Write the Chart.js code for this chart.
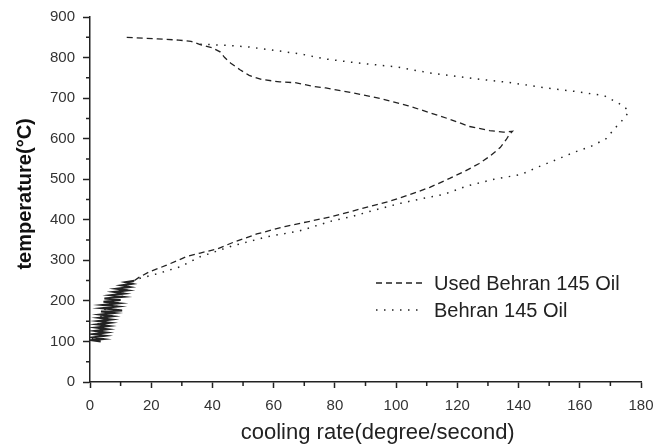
<!DOCTYPE html>
<html>
<head>
<meta charset="utf-8">
<script src="https://cdn.jsdelivr.net/npm/chart.js@4.4.1/dist/chart.umd.min.js"></script>
<style>
  body { margin: 0; background: #fff; }
</style>
</head>
<body>
<canvas id="chart" width="654" height="446"></canvas>
<script>
// series: cooling rate (x) vs temperature (y)
var usedRate = [12, 22, 29, 33, 36, 40, 42.5, 44, 46, 49, 52, 56, 62, 67, 73, 77, 85, 95, 104, 111, 117.5, 124, 130.5, 135, 138, 137, 136, 134, 130.5, 127, 122.5, 117.5, 111, 104.5, 98, 91.5, 85, 78.5, 71, 64, 54.5, 47, 41.5, 36, 31.5, 25, 19.5, 16,
  14.5, 11.5, 13.8, 10.2, 13, 8.6, 12.3, 7.8, 11.2, 6.7, 10.8, 4.7, 10, 4.4, 9.4, 4.1, 9, 3.8, 8.6, 10.5, 3.6, 8, 3.3, 7.4, 3, 7, 2.6, 6.6, 2.3, 6.2, 1.9, 5.8, 1.5, 5.4, 1.1, 5, 0.7, 4.4, 0.3, 3.5];
var usedTemp = [850, 846, 843, 840, 832, 824, 814, 800, 786, 770, 756, 746, 740, 738, 729, 725, 714, 699, 681, 664, 648, 630, 620, 616, 618, 610, 598, 578, 556, 538, 520, 502, 480, 462, 446, 433, 420, 407, 395, 384, 365, 345, 328, 318, 309, 288, 272, 258,
  250, 246, 242, 238, 234, 230, 226, 222, 218, 214, 210, 206, 202, 198, 194, 190, 186, 182, 178, 176, 174, 170, 166, 162, 158, 154, 150, 146, 142, 138, 134, 130, 126, 122, 118, 114, 110, 106, 103, 100];

var freshRate = [36, 45, 52, 60, 68.6, 77.5, 87, 100, 111, 125.5, 137.6, 148, 159, 168, 173.5, 176, 175, 172, 168.6, 163.7, 158, 152.6, 146, 141, 132, 123, 115.7, 109, 101.6, 93, 86, 79, 68.6, 57.8, 46.7, 36, 29.4, 22, 16, 12, 10, 8, 6, 4, 3, 2, 1, 0.5];
var freshTemp = [833, 830, 826, 818, 809, 796, 787, 777, 762, 748, 738, 726, 716, 706, 684, 669, 654, 630, 600, 581, 566, 549, 529, 512, 500, 483, 463, 453, 441, 424, 409, 397, 373, 358, 336, 309, 284, 267, 255, 240, 228, 210, 190, 170, 150, 130, 110, 100];

var seriesNames = ['Used Behran 145 Oil', 'Behran 145 Oil'];
var xTicks = [0, 20, 40, 60, 80, 100, 120, 140, 160, 180];
var yTicks = [0, 100, 200, 300, 400, 500, 600, 700, 800, 900];

function zip(xs, ys) {
  return xs.map(function (x, i) { return { x: x, y: ys[i] }; });
}

var ink = '#222';
var font = "'Liberation Sans', Arial, sans-serif";

// below ~250 C the recorded points crowd into a solid black band
function crowded(ctx) {
  return ctx.p0.parsed.y <= 250;
}

// shorter minor ticks between the labelled ones
var minorTicks = {
  id: 'minorTicks',
  afterDraw: function (chart) {
    var ctx = chart.ctx;
    var xs = chart.scales.x, ys = chart.scales.y;
    ctx.save();
    ctx.strokeStyle = ink;
    ctx.lineWidth = 1.5;
    ctx.beginPath();
    for (var i = 0; i < xTicks.length - 1; i++) {
      var px = xs.getPixelForValue((xTicks[i] + xTicks[i + 1]) / 2);
      ctx.moveTo(px, xs.top);
      ctx.lineTo(px, xs.top + 4);
    }
    for (var j = 0; j < yTicks.length - 1; j++) {
      var py = ys.getPixelForValue((yTicks[j] + yTicks[j + 1]) / 2);
      ctx.moveTo(ys.right, py);
      ctx.lineTo(ys.right - 4, py);
    }
    ctx.stroke();
    ctx.restore();
  }
};

// legend drawn inside the plot, lower right
var insideLegend = {
  id: 'insideLegend',
  afterDraw: function (chart) {
    var ctx = chart.ctx;
    var rows = [283, 310];
    ctx.save();
    ctx.font = '20px ' + font;
    ctx.fillStyle = ink;
    ctx.textBaseline = 'middle';
    chart.data.datasets.forEach(function (ds, i) {
      ctx.strokeStyle = ink;
      ctx.lineWidth = 1.3;
      ctx.setLineDash(ds.borderDash);
      ctx.beginPath();
      ctx.moveTo(376, rows[i]);
      ctx.lineTo(423, rows[i]);
      ctx.stroke();
      ctx.setLineDash([]);
      ctx.fillText(ds.label, 434, rows[i] + 1);
    });
    ctx.restore();
  }
};

new Chart(document.getElementById('chart'), {
  type: 'scatter',
  data: {
    datasets: [{
      label: seriesNames[0],
      data: zip(usedRate, usedTemp),
      showLine: true,
      borderColor: ink,
      borderWidth: 1.3,
      borderDash: [6, 4],
      pointRadius: 0,
      tension: 0,
      segment: {
        borderDash: function (ctx) { return crowded(ctx) ? [] : undefined; },
        borderWidth: function (ctx) { return crowded(ctx) ? 2 : undefined; }
      }
    }, {
      label: seriesNames[1],
      data: zip(freshRate, freshTemp),
      showLine: true,
      borderColor: ink,
      borderWidth: 1.5,
      borderDash: [1.5, 6.5],
      pointRadius: 0,
      tension: 0
    }]
  },
  options: {
    responsive: false,
    animation: false,
    layout: { padding: { top: 15, right: 0, left: 0, bottom: 0 } },
    plugins: {
      legend: { display: false },
      tooltip: { enabled: false }
    },
    scales: {
      x: {
        min: 0,
        max: 180,
        afterFit: function (scale) {
          scale.height = 64;
          scale.paddingRight = 13;
        },
        afterBuildTicks: function (scale) {
          scale.ticks = xTicks.map(function (v) { return { value: v }; });
        },
        grid: { drawOnChartArea: false, tickLength: 6, tickColor: ink, tickWidth: 1.5 },
        border: { color: ink, width: 1.5 },
        ticks: { color: '#333', padding: 9, maxRotation: 0, font: { family: font, size: 15 } },
        title: {
          display: true,
          text: '    cooling rate(degree/second)',
          color: ink,
          padding: { top: 0, bottom: 0 },
          font: { family: font, size: 22 }
        }
      },
      y: {
        min: 0,
        max: 900,
        afterFit: function (scale) { scale.width = 90; },
        afterBuildTicks: function (scale) {
          scale.ticks = yTicks.map(function (v) { return { value: v }; });
        },
        grid: { drawOnChartArea: false, tickLength: 7, tickColor: ink, tickWidth: 1.5 },
        border: { color: ink, width: 1.5 },
        ticks: { color: '#333', padding: 8, font: { family: font, size: 15 } },
        title: {
          display: true,
          text: '  temperature(°C)',
          color: '#111',
          padding: { top: 13, bottom: 0 },
          font: { family: font, size: 20, weight: 'bold' }
        }
      }
    }
  },
  plugins: [minorTicks, insideLegend]
});
</script>
</body>
</html>
